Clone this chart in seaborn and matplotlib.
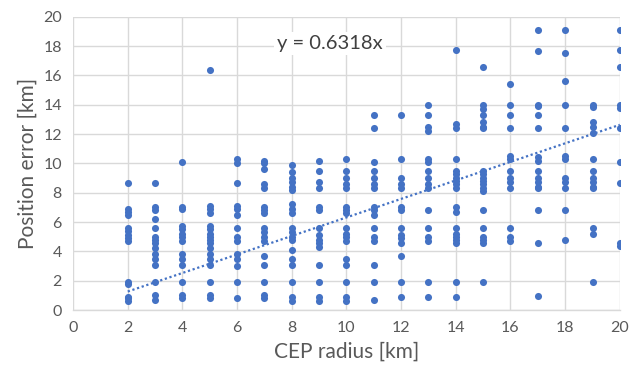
import matplotlib
matplotlib.use("Agg")
import matplotlib.pyplot as plt
import seaborn as sns
import pandas as pd

# ---- data ----
y_2 = [8.64, 6.9, 6.7, 6.5, 5.6, 5.4, 5.1, 4.9, 4.7, 1.9, 1.8, 0.9, 0.8, 0.6]
y_3 = [8.64, 7.0, 6.8, 6.2, 5.6, 5.0, 4.8, 4.6, 4.2, 3.8, 3.5, 3.1, 1.9, 1.0, 0.7]
y_4 = [10.1, 7.0, 6.9, 5.7, 5.5, 5.2, 5.0, 4.7, 3.8, 3.5, 3.1, 1.9, 1.0, 0.8]
y_5 = [16.4, 7.1, 6.9, 6.6, 5.7, 5.5, 5.2, 5.0, 4.8, 4.6, 4.2, 3.8, 3.5, 3.1, 1.9, 1.0, 0.8]
y_6 = [10.3, 10.0, 8.64, 7.1, 6.9, 6.5, 5.6, 5.0, 4.7, 3.8, 3.5, 3.0, 1.9, 0.8]
y_7 = [10.2, 10.0, 9.6, 8.6, 8.3, 7.0, 6.8, 6.6, 5.6, 5.3, 5.0, 4.7, 3.7, 3.1, 1.9, 1.0, 0.8]
y_8 = [9.9, 9.4, 9.0, 8.7, 8.4, 8.2, 7.2, 6.9, 6.6, 5.6, 5.3, 5.0, 4.8, 4.1, 3.5, 3.1, 1.9, 0.9, 0.6]
y_9 = [10.2, 9.5, 8.7, 8.3, 7.0, 6.8, 5.6, 5.1, 4.8, 4.6, 4.3, 3.1, 1.9, 0.9, 0.6]
y_10 = [10.3, 9.5, 9.0, 8.6, 8.3, 7.0, 6.8, 6.6, 5.6, 5.2, 5.0, 4.7, 3.5, 3.1, 1.9, 0.9, 0.6]
y_11 = [13.3, 12.4, 10.1, 9.5, 9.0, 8.6, 8.3, 7.0, 6.8, 6.5, 5.6, 5.0, 4.7, 3.1, 1.9, 0.66]
y_12 = [13.3, 10.3, 9.0, 8.6, 8.3, 7.0, 6.8, 5.6, 5.1, 4.9, 4.6, 3.7, 1.9, 0.86]
y_13 = [14.0, 13.3, 12.5, 12.2, 10.3, 10.1, 9.5, 9.0, 8.6, 8.3, 6.8, 5.6, 5.0, 4.7, 1.9, 0.86]
y_14 = [17.75, 12.7, 12.4, 10.3, 9.5, 9.3, 9.0, 8.8, 8.6, 8.3, 7.05, 6.7, 5.6, 5.2, 5.0, 4.8, 4.6, 1.9, 0.86]
y_15 = [16.6, 14.0, 13.7, 13.3, 12.8, 12.5, 12.4, 9.5, 9.3, 9.0, 8.8, 8.6, 8.3, 8.1, 6.8, 5.6, 5.0, 4.8, 4.6, 1.9]
y_16 = [15.4, 14.0, 13.3, 12.4, 10.5, 10.3, 9.5, 9.0, 8.7, 8.3, 5.6, 5.0, 4.7]
y_17 = [19.1, 17.7, 14.0, 13.9, 13.3, 12.4, 10.45, 10.2, 9.5, 9.0, 8.7, 8.4, 8.3, 6.8, 4.6, 0.93]
y_18 = [19.1, 17.5, 15.6, 14.0, 12.4, 10.5, 10.3, 9.0, 8.7, 8.3, 6.8, 4.8]
y_19 = [14.0, 13.85, 12.8, 12.5, 12.1, 10.3, 9.5, 9.0, 8.7, 8.4, 8.3, 5.6, 5.2, 1.9]
y_20 = [19.1, 17.75, 16.6, 14.0, 13.8, 12.4, 10.1, 8.64, 4.6, 4.4]

columns = {2: y_2, 3: y_3, 4: y_4, 5: y_5, 6: y_6, 7: y_7, 8: y_8, 9: y_9,
           10: y_10, 11: y_11, 12: y_12, 13: y_13, 14: y_14, 15: y_15,
           16: y_16, 17: y_17, 18: y_18, 19: y_19, 20: y_20}

trend_slope = 0.6318
trend_x = [2, 20]
x_ticks = list(range(0, 21, 2))
y_ticks = list(range(0, 21, 2))

rows = [(x, y) for x, ys in columns.items() for y in ys]
df = pd.DataFrame(rows, columns=["CEP radius [km]", "Position error [km]"])
trend_df = pd.DataFrame({"x": trend_x, "y": [trend_slope * v for v in trend_x]})

# ---- style ----
sns.set_theme(style="white")
plt.rcParams["font.family"] = ["Lato", "DejaVu Sans"]

blue = "#4472C4"
grey_txt = "#595959"

fig = plt.figure(figsize=(6.41, 3.74), dpi=100)
ax = fig.add_axes([0.114, 0.171, 0.853, 0.784])

sns.scatterplot(data=df, x="CEP radius [km]", y="Position error [km]", ax=ax,
                color=blue, s=26, linewidth=0, zorder=3)
sns.lineplot(data=trend_df, x="x", y="y", ax=ax, color=blue,
             linestyle=(0, (1, 1.2)), linewidth=1.6, zorder=2)

ax.set_xlim(0, 20)
ax.set_ylim(0, 20)
ax.set_xticks(x_ticks)
ax.set_yticks(y_ticks)
ax.grid(True, color="#D9D9D9", linewidth=1.0)
ax.set_axisbelow(True)
for side in ["top", "right", "left"]:
    ax.spines[side].set_visible(False)
ax.spines["bottom"].set_color("#D9D9D9")
ax.spines["bottom"].set_linewidth(1.0)
ax.tick_params(axis="both", length=0, labelsize=11.5, labelcolor=grey_txt, pad=8)

ax.set_xlabel("CEP radius [km]", fontsize=15, color=grey_txt, labelpad=5)
ax.set_ylabel("Position error [km]", fontsize=15, color=grey_txt, labelpad=4)

ax.text(9.4, 18.2, f"y = {trend_slope}x", fontsize=14.5, color="#404040",
        ha="center", va="center", zorder=4,
        bbox=dict(facecolor="white", edgecolor="none", pad=2))

fig.savefig("out.png", dpi=100)
